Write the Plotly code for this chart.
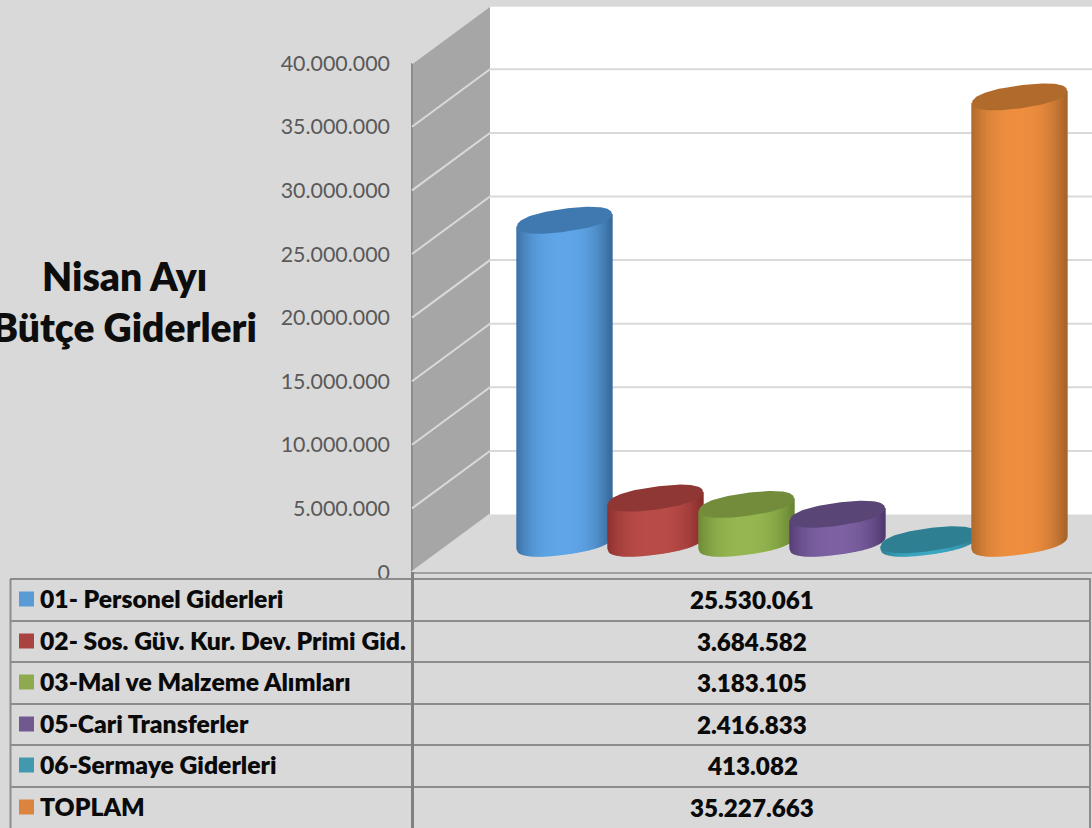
import plotly.graph_objects as go
import numpy as np

categories = ["01- Personel Giderleri", "02- Sos. Güv. Kur. Dev. Primi Gid.", "03-Mal ve Malzeme Alımları",
              "05-Cari Transferler", "06-Sermaye Giderleri", "TOPLAM"]
values = [25530061, 3684582, 3183105, 2416833, 413082, 35227663]
value_labels = ["25.530.061", "3.684.582", "3.183.105", "2.416.833", "413.082", "35.227.663"]
swatch_colors = ["#5b9bd5", "#a9433f", "#8fa94f", "#71588f", "#4198af", "#db843d"]
center_colors = ["#5fa6e8", "#b94c48", "#95b650", "#7d61a2", "#3ba7c1", "#ee8e3f"]
edge_colors = ["#3a6c9e", "#8a2f2d", "#6a8734", "#523b72", "#2a7a8e", "#a9662b"]
top_colors = ["#3f79b0", "#8f3735", "#728c3c", "#5a4577", "#2f7f92", "#b06a2c"]
tick_values = [0, 5000000, 10000000, 15000000, 20000000, 25000000, 30000000, 35000000, 40000000]

W, H = 1092, 828
PX_PER_UNIT_Y = 63.6 / 5000000
Y0 = 572
X0, DX = 564.5, 91
xr = lambda p: (p - X0) / DX
yr = lambda p: (Y0 - p) / PX_PER_UNIT_Y
BG = "#d9d9d9"

fig = go.Figure()


def poly(px, py, color, line=None, lw=0):
    fig.add_trace(go.Scatter(
        x=[xr(p) for p in px], y=[yr(p) for p in py], mode="lines",
        fill="toself" if line is None or lw == 0 else "none", fillcolor=color,
        line=dict(color=line or color, width=lw), hoverinfo="skip", showlegend=False))


SIDE_L, SIDE_R, DEPTH = 412, 490, 57.5
# walls
poly([SIDE_R, W, W, SIDE_R, SIDE_R], [6, 6, 514.5, 514.5, 6], "#ffffff")
poly([SIDE_L, SIDE_R, SIDE_R, SIDE_L, SIDE_L], [63, 6, 514.5, 572, 63], "#a6a6a6")
poly([SIDE_L, SIDE_L], [63, 572], "#8c8c8c", "#8c8c8c", 2)
# gridlines
for t in tick_values[1:]:
    fig.add_trace(go.Scatter(
        x=[xr(SIDE_L), xr(SIDE_R), xr(W)],
        y=[t, t + DEPTH / PX_PER_UNIT_Y, t + DEPTH / PX_PER_UNIT_Y],
        mode="lines", line=dict(color=BG, width=2), hoverinfo="skip", showlegend=False))
poly([SIDE_L, SIDE_R], [572, 514.5], BG, BG, 2)
poly([SIDE_L, W], [573, 573], "#a0a0a0", "#a0a0a0", 2)


def mix(a, b, f):
    ca = [int(a[i:i + 2], 16) for i in (1, 3, 5)]
    cb = [int(b[i:i + 2], 16) for i in (1, 3, 5)]
    return "rgb(%d,%d,%d)" % tuple(round(x + (y - x) * f) for x, y in zip(ca, cb))


# cylinders: half width / ellipse in pixels, heights from the values
HALF, B, SHEAR = 47.5, 11.5, 0.13
EXP = 2.3
BASE_TOP = 545
BASE_BOTTOM = 542.5
N = 48
for i, val in enumerate(values):
    cx = X0 + i * DX
    hpx = val * PX_PER_UNIT_Y
    us = np.linspace(-1, 1, N + 1)
    for u0, u1 in zip(us[:-1], us[1:]):
        uu = np.linspace(u0, u1, 5)
        lower = B * np.clip(1 - np.abs(uu) ** EXP, 0, 1) ** (1 / EXP) - SHEAR * HALF * uu
        px = cx + HALF * uu
        py_bot = BASE_BOTTOM + lower
        py_top = BASE_TOP - hpx + lower
        um = (u0 + u1) / 2 + 0.03
        f = max(0.0, 1 - min(1.0, abs(um)) ** 2.6)
        c = mix(edge_colors[i], center_colors[i], f)
        fig.add_trace(go.Scatter(
            x=[xr(p) for p in list(px) + list(px[::-1]) + [px[0]]],
            y=[yr(p) for p in list(py_bot) + list(py_top[::-1]) + [py_bot[0]]],
            mode="lines", fill="toself", fillcolor=c, line=dict(color=c, width=1.4),
            hoverinfo="skip", showlegend=False))
    t = np.linspace(0, 2 * np.pi, 145)
    cu = np.sign(np.cos(t)) * np.abs(np.cos(t)) ** (2 / EXP)
    su = np.sign(np.sin(t)) * np.abs(np.sin(t)) ** (2 / EXP)
    ex = cx + HALF * cu
    ey = BASE_TOP - hpx - B * su - SHEAR * HALF * cu
    poly(list(ex), list(ey), top_colors[i])

FONT = "Lato, Carlito, sans-serif"
shapes, annots = [], []
px_x = lambda p: p / W
px_y = lambda p: 1 - p / H
LINE = "#8c8c8c"


def hline(x0, x1, y, w=2, c=LINE):
    shapes.append(dict(type="line", xref="paper", yref="paper", x0=px_x(x0), x1=px_x(x1),
                       y0=px_y(y), y1=px_y(y), line=dict(color=c, width=w)))


def vline(x, y0, y1, w=2, c=LINE):
    shapes.append(dict(type="line", xref="paper", yref="paper", x0=px_x(x), x1=px_x(x),
                       y0=px_y(y0), y1=px_y(y1), line=dict(color=c, width=w)))


row_tops = [579, 621, 662, 704, 745, 787]
shapes.append(dict(type="rect", xref="paper", yref="paper", x0=px_x(10), x1=px_x(1091),
                   y0=px_y(578), y1=0, fillcolor=BG, line=dict(width=0), layer="above"))
for y in row_tops:
    hline(10, 1091, y)
vline(10.5, 579, 828)
vline(412.5, 572, 828, 3, "#808080")
vline(1090, 579, 828)
for i, (cat, lab) in enumerate(zip(categories, value_labels)):
    yc = row_tops[i] + 20.5
    shapes.append(dict(type="rect", xref="paper", yref="paper", x0=px_x(19), x1=px_x(34),
                       y0=px_y(yc - 8), y1=px_y(yc + 7), fillcolor=swatch_colors[i], line=dict(width=0)))
    annots.append(dict(text=cat, xref="paper", yref="paper", x=px_x(38), y=px_y(yc - 1), xanchor="left",
                       yanchor="middle", showarrow=False, font=dict(family=FONT, size=24.7, color="#0a0a0a", weight=800)))
    annots.append(dict(text=lab, xref="paper", yref="paper", x=px_x(752), y=px_y(yc), xanchor="center",
                       yanchor="middle", showarrow=False, font=dict(family=FONT, size=24.2, color="#0a0a0a", weight=800)))
annots.append(dict(text="Nisan Ayı", xref="paper", yref="paper", x=px_x(124), y=px_y(276), xanchor="center",
                   yanchor="middle", showarrow=False, font=dict(family=FONT, size=39, color="#0d0d0d", weight=800)))
annots.append(dict(text="Bütçe Giderleri", xref="paper", yref="paper", x=px_x(124), y=px_y(327), xanchor="center",
                   yanchor="middle", showarrow=False, font=dict(family=FONT, size=39, color="#0d0d0d", weight=800)))

fig.update_layout(
    width=W, height=H, margin=dict(l=0, r=0, t=0, b=0), autosize=False,
    paper_bgcolor=BG, plot_bgcolor=BG, separators=",.", shapes=shapes, annotations=annots,
    showlegend=False, hovermode=False,
    xaxis=dict(range=[xr(0), xr(W)], visible=False, domain=[0, 1], fixedrange=True),
    yaxis=dict(range=[yr(H), yr(0)], domain=[0, 1], anchor="free", position=390 / W, showgrid=False,
               zeroline=False, showline=False, ticks="", tickvals=tick_values, tickformat=",d",
               tickfont=dict(family=FONT, size=21.4, color="#595959"), fixedrange=True),
)
fig.write_html("out.html", post_script="document.body.style.margin='0';", config={"displayModeBar": False})
